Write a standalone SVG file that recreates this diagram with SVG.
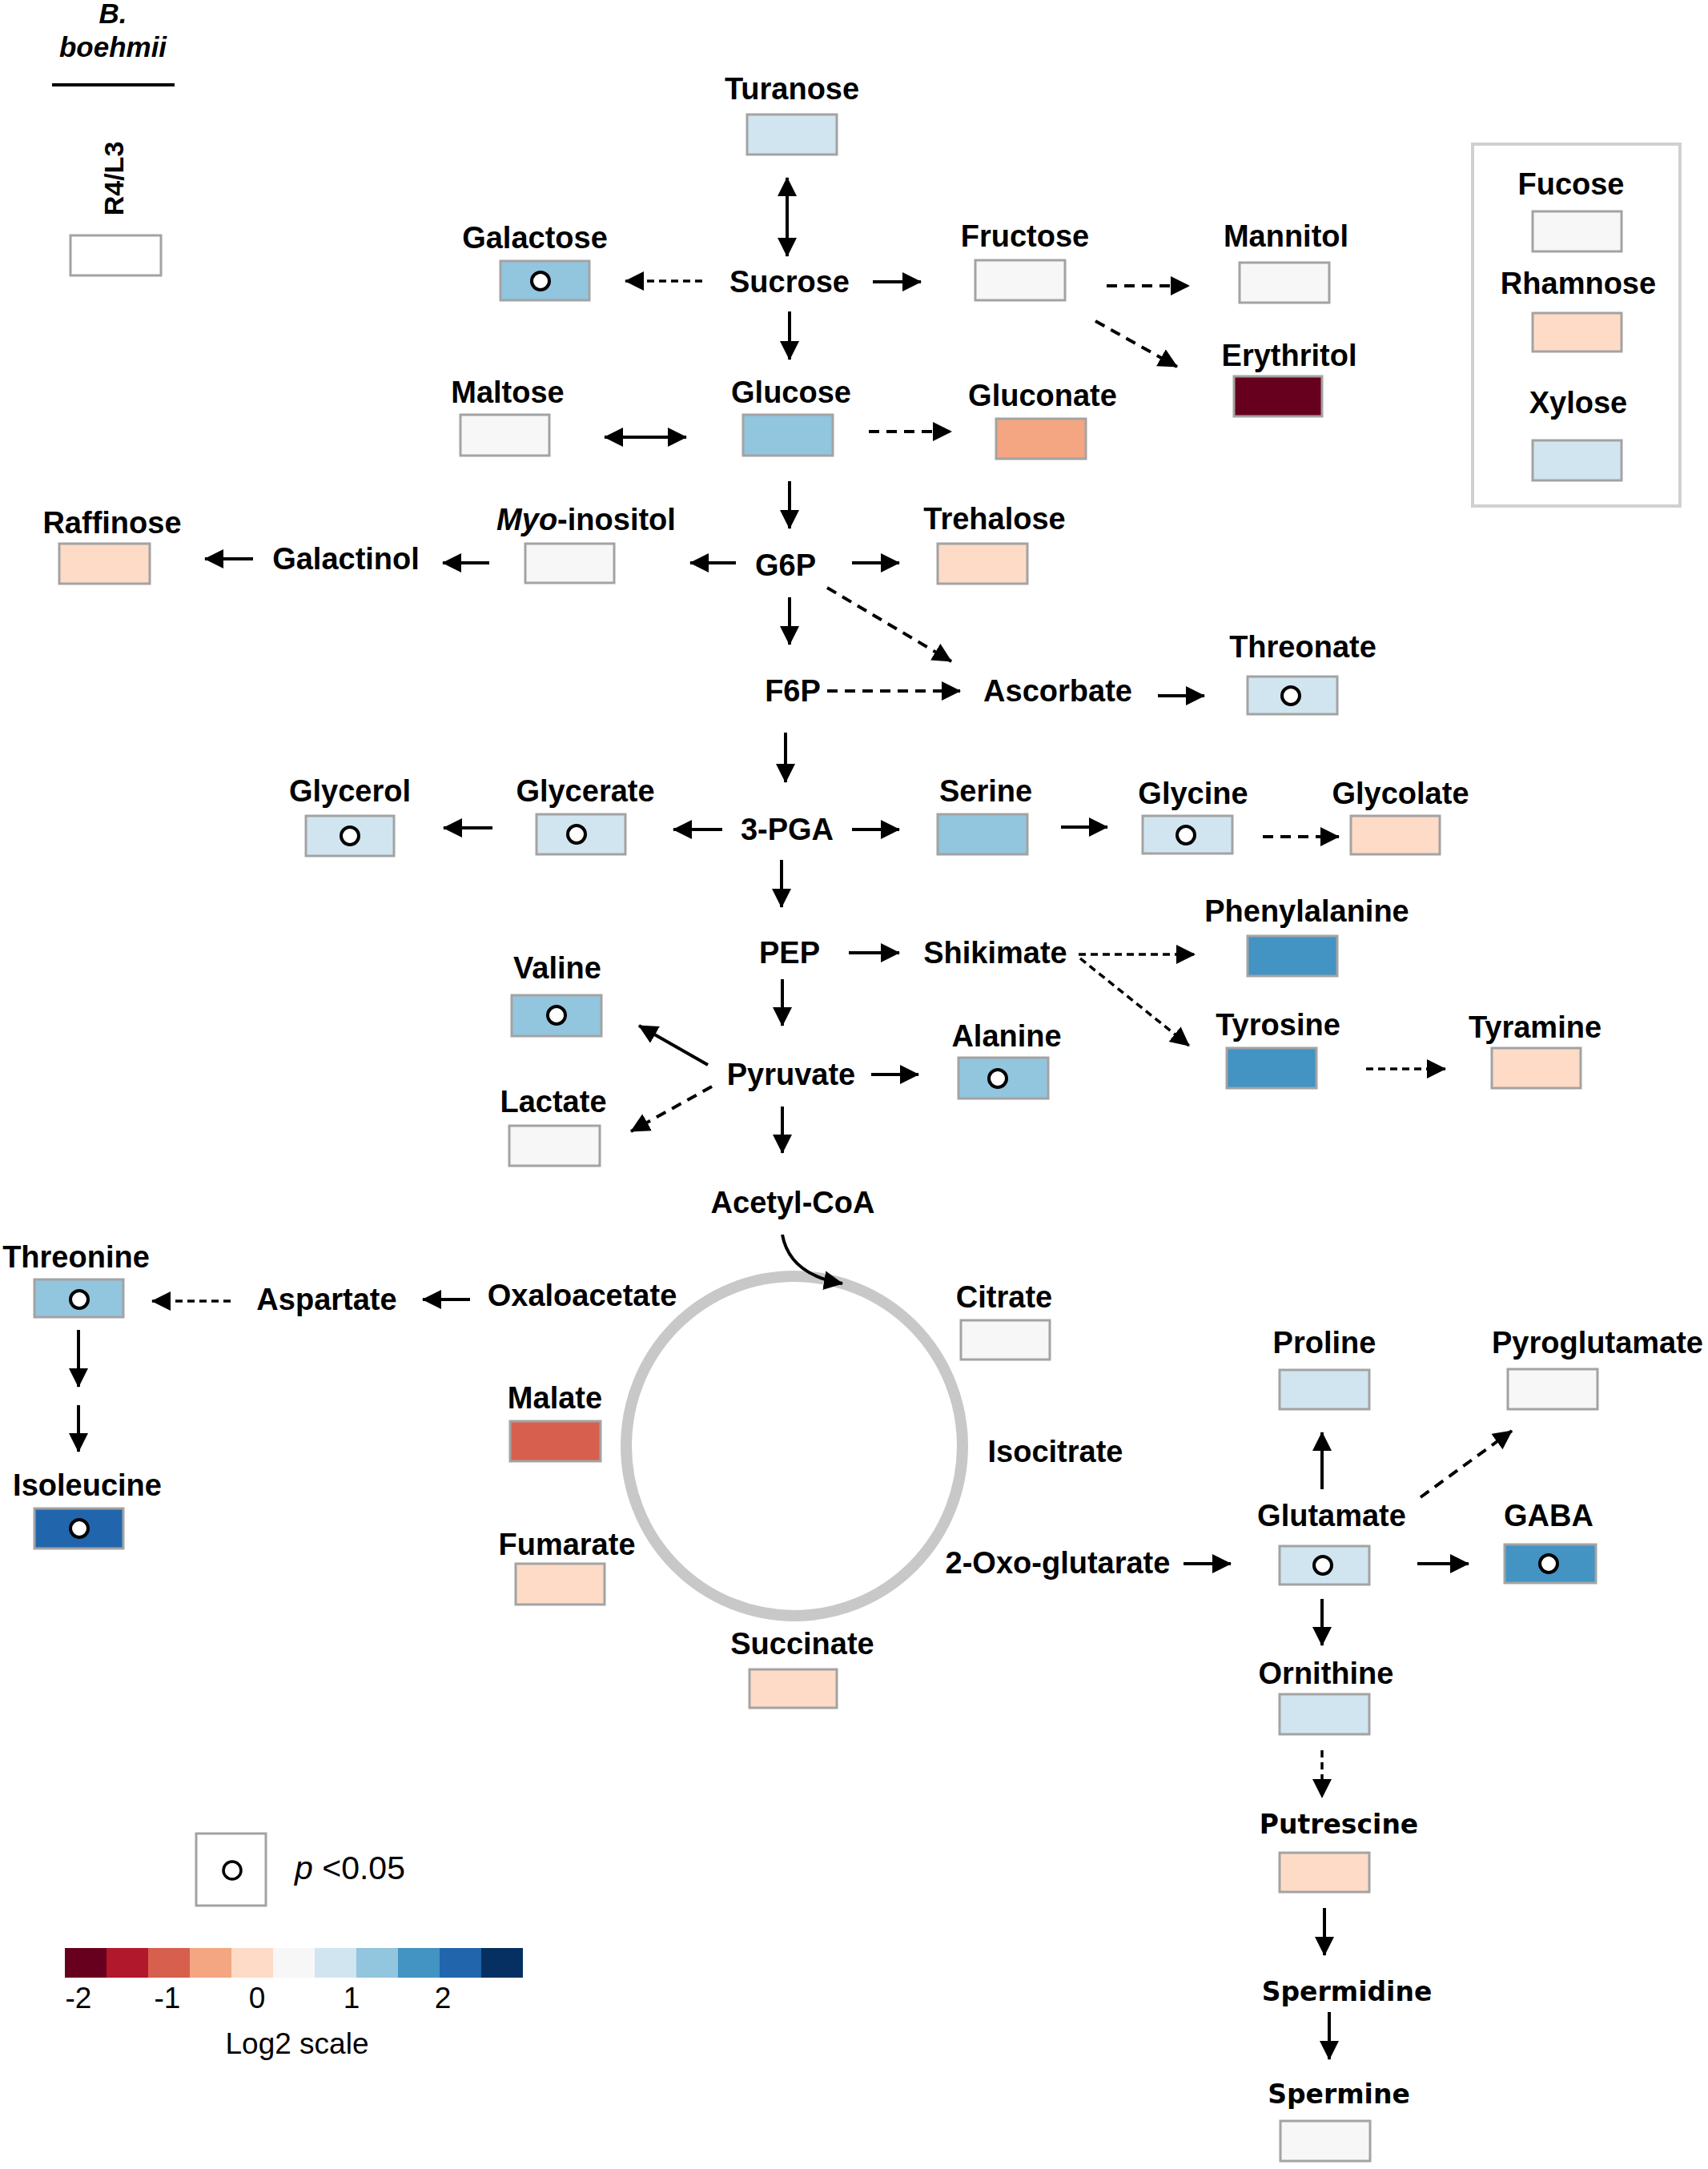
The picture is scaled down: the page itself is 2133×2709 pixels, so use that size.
<svg xmlns="http://www.w3.org/2000/svg" width="2133" height="2709" viewBox="0 0 2133 2709">
<defs>
<style>
text{font-family:"Liberation Sans",Arial,sans-serif;fill:#000}
.lb{font-size:38px;font-weight:bold;text-anchor:middle}
.lv{font-family:"DejaVu Sans","Liberation Sans",sans-serif;font-size:33px;font-weight:bold;text-anchor:middle}
.bx{stroke:#a3a3a3;stroke-width:3}
.sig{fill:#fff;stroke:#000;stroke-width:4}
.c{fill:none;stroke:#000;stroke-width:4}
.d{fill:none;stroke:#000;stroke-width:4;stroke-dasharray:13 9}
.ds{fill:none;stroke:#000;stroke-width:3.5;stroke-dasharray:9 6}
.reg{font-size:37px;text-anchor:middle}
</style>
<marker id="ah" markerUnits="userSpaceOnUse" markerWidth="26" markerHeight="26" refX="23" refY="12" orient="auto-start-reverse">
<path d="M0,0 L24,12 L0,24 z" fill="#000"/>
</marker>
</defs>
<rect width="2133" height="2709" fill="#fff"/>

<g id="header">
<text x="141" y="29" font-size="35" font-weight="bold" font-style="italic" text-anchor="middle">B.</text>
<text x="141" y="71" font-size="35" font-weight="bold" font-style="italic" text-anchor="middle">boehmii</text>
<line x1="65" y1="106" x2="218" y2="106" stroke="#000" stroke-width="4"/>
<text x="154" y="223" font-size="34" font-weight="bold" text-anchor="middle" transform="rotate(-90 154 223)">R4/L3</text>
<rect class="bx" x="88" y="294" width="113" height="50" fill="#fff"/>
</g>

<g id="legend-sugars">
<rect x="1839" y="180" width="259" height="452" fill="none" stroke="#d0d0d0" stroke-width="4"/>
<text class="lb" x="1962" y="243">Fucose</text>
<rect class="bx" x="1914" y="264" width="111" height="50" fill="#f7f7f7"/>
<text class="lb" x="1971" y="367">Rhamnose</text>
<rect class="bx" x="1914" y="391" width="111" height="48" fill="#fddbc7"/>
<text class="lb" x="1971" y="516">Xylose</text>
<rect class="bx" x="1914" y="550" width="111" height="50" fill="#d1e5f0"/>
</g>

<g id="tca-cycle">
<ellipse cx="992" cy="1806" rx="210" ry="212" fill="none" stroke="#c8c8c8" stroke-width="14"/>
</g>

<g id="connectors">
<line class="c" x1="983" y1="222" x2="983" y2="320" marker-start="url(#ah)" marker-end="url(#ah)"/>
<line class="ds" x1="877" y1="351" x2="781" y2="351" marker-end="url(#ah)"/>
<line class="c" x1="1090" y1="352" x2="1150" y2="352" marker-end="url(#ah)"/>
<line class="c" x1="986" y1="389" x2="986" y2="449" marker-end="url(#ah)"/>
<line class="d" x1="1382" y1="357" x2="1485" y2="357" marker-end="url(#ah)"/>
<line class="d" x1="1368" y1="401" x2="1470" y2="458" marker-end="url(#ah)"/>
<line class="c" x1="755" y1="546" x2="857" y2="546" marker-start="url(#ah)" marker-end="url(#ah)"/>
<line class="d" x1="1085" y1="539" x2="1188" y2="539" marker-end="url(#ah)"/>
<line class="c" x1="986" y1="601" x2="986" y2="660" marker-end="url(#ah)"/>
<line class="c" x1="919" y1="703" x2="862" y2="703" marker-end="url(#ah)"/>
<line class="c" x1="611" y1="703" x2="553" y2="703" marker-end="url(#ah)"/>
<line class="c" x1="316" y1="698" x2="256" y2="698" marker-end="url(#ah)"/>
<line class="c" x1="1064" y1="703" x2="1123" y2="703" marker-end="url(#ah)"/>
<line class="c" x1="986" y1="746" x2="986" y2="805" marker-end="url(#ah)"/>
<line class="d" x1="1033" y1="734" x2="1188" y2="826" marker-end="url(#ah)"/>
<line class="d" x1="1033" y1="863" x2="1199" y2="863" marker-end="url(#ah)"/>
<line class="c" x1="1446" y1="869" x2="1504" y2="869" marker-end="url(#ah)"/>
<line class="c" x1="981" y1="915" x2="981" y2="977" marker-end="url(#ah)"/>
<line class="c" x1="902" y1="1036" x2="841" y2="1036" marker-end="url(#ah)"/>
<line class="c" x1="615" y1="1034" x2="554" y2="1034" marker-end="url(#ah)"/>
<line class="c" x1="1064" y1="1036" x2="1123" y2="1036" marker-end="url(#ah)"/>
<line class="c" x1="1325" y1="1033" x2="1383" y2="1033" marker-end="url(#ah)"/>
<line class="d" x1="1577" y1="1045" x2="1672" y2="1045" marker-end="url(#ah)"/>
<line class="c" x1="976" y1="1074" x2="976" y2="1133" marker-end="url(#ah)"/>
<line class="c" x1="1060" y1="1190" x2="1123" y2="1190" marker-end="url(#ah)"/>
<line class="ds" x1="1347" y1="1192" x2="1492" y2="1192" marker-end="url(#ah)"/>
<line class="ds" x1="1349" y1="1197" x2="1485" y2="1306" marker-end="url(#ah)"/>
<line class="ds" x1="1706" y1="1335" x2="1805" y2="1335" marker-end="url(#ah)"/>
<line class="c" x1="977" y1="1223" x2="977" y2="1281" marker-end="url(#ah)"/>
<line class="c" x1="884" y1="1330" x2="798" y2="1281" marker-end="url(#ah)"/>
<line class="d" x1="889" y1="1357" x2="788" y2="1413" marker-end="url(#ah)"/>
<line class="c" x1="1088" y1="1342" x2="1147" y2="1342" marker-end="url(#ah)"/>
<line class="c" x1="977" y1="1382" x2="977" y2="1440" marker-end="url(#ah)"/>
<path class="c" d="M977,1542 Q986,1592 1052,1603" stroke-width="3.5" marker-end="url(#ah)"/>
<line class="c" x1="587" y1="1623" x2="528" y2="1623" marker-end="url(#ah)"/>
<line class="ds" x1="288" y1="1625" x2="190" y2="1625" marker-end="url(#ah)"/>
<line class="c" x1="98" y1="1661" x2="98" y2="1732" stroke-width="3.5" marker-end="url(#ah)"/>
<line class="c" x1="98" y1="1755" x2="98" y2="1813" stroke-width="3.5" marker-end="url(#ah)"/>
<line class="c" x1="1478" y1="1953" x2="1537" y2="1953" marker-end="url(#ah)"/>
<line class="c" x1="1651" y1="1860" x2="1651" y2="1789" marker-end="url(#ah)"/>
<line class="d" x1="1774" y1="1870" x2="1888" y2="1787" marker-end="url(#ah)"/>
<line class="c" x1="1770" y1="1953" x2="1834" y2="1953" marker-end="url(#ah)"/>
<line class="c" x1="1651" y1="1997" x2="1651" y2="2055" marker-end="url(#ah)"/>
<line class="ds" x1="1651" y1="2186" x2="1651" y2="2245" marker-end="url(#ah)"/>
<line class="c" x1="1654" y1="2383" x2="1654" y2="2442" marker-end="url(#ah)"/>
<line class="c" x1="1660" y1="2513" x2="1660" y2="2572" marker-end="url(#ah)"/>
</g>

<g id="turanose"><text class="lb" x="989" y="124">Turanose</text><rect class="bx" x="933" y="143" width="112" height="50" fill="#d1e5f0"/></g>
<g id="sucrose"><text class="lb" x="986" y="365">Sucrose</text></g>
<g id="galactose"><text class="lb" x="668" y="310">Galactose</text><rect class="bx" x="625" y="326" width="111" height="49" fill="#92c5de"/><circle class="sig" cx="675" cy="351" r="11"/></g>
<g id="fructose"><text class="lb" x="1280" y="308">Fructose</text><rect class="bx" x="1218" y="325" width="112" height="50" fill="#f7f7f7"/></g>
<g id="mannitol"><text class="lb" x="1606" y="308">Mannitol</text><rect class="bx" x="1548" y="328" width="112" height="50" fill="#f7f7f7"/></g>
<g id="erythritol"><text class="lb" x="1610" y="457">Erythritol</text><rect class="bx" x="1541" y="470" width="110" height="50" fill="#67001f" stroke="#8a3a4a"/></g>
<g id="maltose"><text class="lb" x="634" y="503">Maltose</text><rect class="bx" x="575" y="518" width="111" height="51" fill="#f7f7f7"/></g>
<g id="glucose"><text class="lb" x="988" y="503">Glucose</text><rect class="bx" x="928" y="518" width="112" height="51" fill="#92c5de"/></g>
<g id="gluconate"><text class="lb" x="1302" y="507">Gluconate</text><rect class="bx" x="1244" y="523" width="112" height="50" fill="#f4a582"/></g>
<g id="g6p"><text class="lb" x="981" y="719">G6P</text></g>
<g id="myo-inositol"><text class="lb" x="732" y="662"><tspan font-style="italic">Myo</tspan>-inositol</text><rect class="bx" x="656" y="679" width="111" height="49" fill="#f7f7f7"/></g>
<g id="trehalose"><text class="lb" x="1242" y="661">Trehalose</text><rect class="bx" x="1171" y="679" width="112" height="50" fill="#fddbc7"/></g>
<g id="galactinol"><text class="lb" x="432" y="711">Galactinol</text></g>
<g id="raffinose"><text class="lb" x="140" y="666">Raffinose</text><rect class="bx" x="74" y="679" width="113" height="50" fill="#fddbc7"/></g>
<g id="f6p"><text class="lb" x="990" y="876">F6P</text></g>
<g id="ascorbate"><text class="lb" x="1321" y="876">Ascorbate</text></g>
<g id="threonate"><text class="lb" x="1627" y="821">Threonate</text><rect class="bx" x="1558" y="845" width="112" height="47" fill="#d1e5f0"/><circle class="sig" cx="1612" cy="869" r="11"/></g>
<g id="pga3"><text class="lb" x="983" y="1049">3-PGA</text></g>
<g id="glycerate"><text class="lb" x="731" y="1001">Glycerate</text><rect class="bx" x="670" y="1017" width="111" height="50" fill="#d1e5f0"/><circle class="sig" cx="720" cy="1042" r="11"/></g>
<g id="glycerol"><text class="lb" x="437" y="1001">Glycerol</text><rect class="bx" x="382" y="1019" width="110" height="50" fill="#d1e5f0"/><circle class="sig" cx="437" cy="1044" r="11"/></g>
<g id="serine"><text class="lb" x="1231" y="1001">Serine</text><rect class="bx" x="1171" y="1017" width="112" height="50" fill="#92c5de"/></g>
<g id="glycine"><text class="lb" x="1490" y="1004">Glycine</text><rect class="bx" x="1427" y="1019" width="112" height="47" fill="#d1e5f0"/><circle class="sig" cx="1481" cy="1043" r="11"/></g>
<g id="glycolate"><text class="lb" x="1749" y="1004">Glycolate</text><rect class="bx" x="1687" y="1019" width="111" height="48" fill="#fddbc7"/></g>
<g id="pep"><text class="lb" x="986" y="1203">PEP</text></g>
<g id="shikimate"><text class="lb" x="1243" y="1203">Shikimate</text></g>
<g id="phenylalanine"><text class="lb" x="1632" y="1151">Phenylalanine</text><rect class="bx" x="1558" y="1169" width="112" height="50" fill="#4393c3"/></g>
<g id="tyrosine"><text class="lb" x="1596" y="1293">Tyrosine</text><rect class="bx" x="1532" y="1309" width="112" height="50" fill="#4393c3"/></g>
<g id="tyramine"><text class="lb" x="1917" y="1296">Tyramine</text><rect class="bx" x="1863" y="1309" width="111" height="50" fill="#fddbc7"/></g>
<g id="pyruvate"><text class="lb" x="988" y="1355">Pyruvate</text></g>
<g id="valine"><text class="lb" x="696" y="1222">Valine</text><rect class="bx" x="639" y="1243" width="112" height="51" fill="#92c5de"/><circle class="sig" cx="695" cy="1268" r="11"/></g>
<g id="lactate"><text class="lb" x="691" y="1389">Lactate</text><rect class="bx" x="636" y="1406" width="113" height="50" fill="#f7f7f7"/></g>
<g id="alanine"><text class="lb" x="1257" y="1307">Alanine</text><rect class="bx" x="1197" y="1321" width="112" height="51" fill="#92c5de"/><circle class="sig" cx="1246" cy="1347" r="11"/></g>
<g id="acetyl-coa"><text class="lb" x="990" y="1515">Acetyl-CoA</text></g>
<g id="oxaloacetate"><text class="lb" x="727" y="1631">Oxaloacetate</text></g>
<g id="aspartate"><text class="lb" x="408" y="1636">Aspartate</text></g>
<g id="threonine"><text class="lb" x="95" y="1583">Threonine</text><rect class="bx" x="43" y="1598" width="111" height="47" fill="#92c5de"/><circle class="sig" cx="99" cy="1623" r="11"/></g>
<g id="isoleucine"><text class="lb" x="109" y="1868">Isoleucine</text><rect class="bx" x="43" y="1884" width="111" height="50" fill="#2166ac"/><circle class="sig" cx="99" cy="1909" r="11"/></g>
<g id="malate"><text class="lb" x="693" y="1759">Malate</text><rect class="bx" x="637" y="1775" width="113" height="50" fill="#d6604d"/></g>
<g id="fumarate"><text class="lb" x="708" y="1942">Fumarate</text><rect class="bx" x="644" y="1953" width="111" height="51" fill="#fddbc7"/></g>
<g id="succinate"><text class="lb" x="1002" y="2066">Succinate</text><rect class="bx" x="936" y="2085" width="109" height="48" fill="#fddbc7"/></g>
<g id="citrate"><text class="lb" x="1254" y="1633">Citrate</text><rect class="bx" x="1200" y="1649" width="111" height="49" fill="#f7f7f7"/></g>
<g id="isocitrate"><text class="lb" x="1318" y="1826">Isocitrate</text></g>
<g id="oxoglutarate"><text class="lb" x="1321" y="1965">2-Oxo-glutarate</text></g>
<g id="proline"><text class="lb" x="1654" y="1690">Proline</text><rect class="bx" x="1598" y="1711" width="112" height="49" fill="#d1e5f0"/></g>
<g id="pyroglutamate"><text class="lb" x="1995" y="1690">Pyroglutamate</text><rect class="bx" x="1883" y="1710" width="112" height="50" fill="#f7f7f7"/></g>
<g id="glutamate"><text class="lb" x="1663" y="1906">Glutamate</text><rect class="bx" x="1598" y="1931" width="112" height="48" fill="#d1e5f0"/><circle class="sig" cx="1652" cy="1955" r="11"/></g>
<g id="gaba"><text class="lb" x="1934" y="1906">GABA</text><rect class="bx" x="1879" y="1929" width="114" height="48" fill="#4393c3"/><circle class="sig" cx="1934" cy="1953" r="11"/></g>
<g id="ornithine"><text class="lb" x="1656" y="2103">Ornithine</text><rect class="bx" x="1598" y="2116" width="112" height="50" fill="#d1e5f0"/></g>
<g id="putrescine"><text class="lv" x="1672" y="2290">Putrescine</text><rect class="bx" x="1598" y="2314" width="112" height="49" fill="#fddbc7"/></g>
<g id="spermidine"><text class="lv" x="1682" y="2499">Spermidine</text></g>
<g id="spermine"><text class="lv" x="1672" y="2627">Spermine</text><rect class="bx" x="1599" y="2649" width="112" height="50" fill="#f7f7f7"/></g>

<g id="legend-significance">
<rect x="245" y="2290" width="87" height="90" fill="#fff" stroke="#a3a3a3" stroke-width="3"/>
<circle cx="290" cy="2336" r="11" fill="#fff" stroke="#000" stroke-width="3.5"/>
<text x="368" y="2347" font-size="41"><tspan font-style="italic">p</tspan> &lt;0.05</text>
</g>

<g id="legend-scale">
<rect x="81" y="2433" width="52" height="37" fill="#67001f"/>
<rect x="133" y="2433" width="52" height="37" fill="#b2182b"/>
<rect x="185" y="2433" width="52" height="37" fill="#d6604d"/>
<rect x="237" y="2433" width="52" height="37" fill="#f4a582"/>
<rect x="289" y="2433" width="52" height="37" fill="#fddbc7"/>
<rect x="341" y="2433" width="52" height="37" fill="#f7f7f7"/>
<rect x="393" y="2433" width="52" height="37" fill="#d1e5f0"/>
<rect x="445" y="2433" width="52" height="37" fill="#92c5de"/>
<rect x="497" y="2433" width="52" height="37" fill="#4393c3"/>
<rect x="549" y="2433" width="52" height="37" fill="#2166ac"/>
<rect x="601" y="2433" width="52" height="37" fill="#053061"/>
<text class="reg" x="98" y="2508">-2</text>
<text class="reg" x="209" y="2508">-1</text>
<text class="reg" x="321" y="2508">0</text>
<text class="reg" x="439" y="2508">1</text>
<text class="reg" x="553" y="2508">2</text>
<text class="reg" x="371" y="2565">Log2 scale</text>
</g>
</svg>
